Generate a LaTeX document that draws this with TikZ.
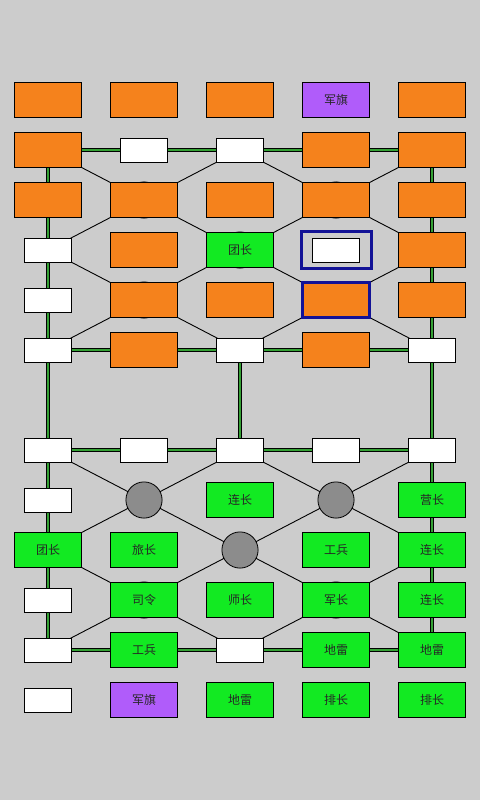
\documentclass[tikz,border=0pt]{standalone}
\usepackage{fontspec}
\setmainfont{Noto Sans CJK SC}
\usetikzlibrary{positioning}

\definecolor{boardgray}{RGB}{204,204,204}
\definecolor{pieceorange}{RGB}{245,130,28}
\definecolor{piecegreen}{RGB}{18,234,34}
\definecolor{piecepurple}{RGB}{176,92,250}
\definecolor{campgray}{RGB}{140,140,140}
\definecolor{railgreen}{RGB}{52,160,52}
\definecolor{selblue}{RGB}{18,18,150}

\begin{document}
\begin{tikzpicture}[x=1pt,y=-1pt,
    road/.style={black, line width=0.9pt},
    railout/.style={black, line width=3.2pt},
    railin/.style={railgreen, line width=1.3pt},
    piece/.style={draw=black, line width=0.8pt, minimum width=67pt, minimum height=35pt, inner sep=0pt,
      font=\fontsize{12}{12}\selectfont, text=black!85},
    orangebox/.style={piece, fill=pieceorange},
    greenbox/.style={piece, fill=piecegreen},
    purplebox/.style={piece, fill=piecepurple},
    postbox/.style={draw=black, line width=0.8pt, fill=white, minimum width=47pt, minimum height=24pt, inner sep=0pt},
    camp/.style={circle, draw=black, line width=0.8pt, fill=campgray, minimum size=36.2pt, inner sep=0pt},
    selframe/.style={draw=selblue, line width=2.2pt, minimum width=70pt, minimum height=37pt, inner sep=0pt}]

    \fill[boardgray] (0,0) rectangle (480,800);
    \useasboundingbox (0,0) rectangle (480,800);

    % grid posts
    \foreach \i in {1,...,5}
      \foreach \j in {1,...,12}{
        \pgfmathsetmacro\yy{50+50*\j+(\j>6)*50}
        \coordinate (p-\i-\j) at ({96*\i-48},\yy);
      }

    % roads
    \foreach \j in {1,...,12}
      \foreach \i [evaluate=\i as \k using int(\i+1)] in {1,...,4}
        \draw[road] (p-\i-\j) -- (p-\k-\j);
    \foreach \i in {1,...,5}
      \foreach \j [evaluate=\j as \k using int(\j+1)] in {1,...,5,7,8,9,10,11}
        \draw[road] (p-\i-\j) -- (p-\i-\k);
    \foreach \a/\b in {1-6/5-2, 5-6/1-2, 3-6/1-4, 3-6/5-4, 1-4/3-2, 5-4/3-2,
                       1-7/5-11, 5-7/1-11, 3-7/1-9, 3-7/5-9, 1-9/3-11, 5-9/3-11}
      \draw[road] (p-\a) -- (p-\b);

    % railways
    \foreach \s in {railout, railin}{
      \draw[\s] (p-1-2) -- (p-5-2);
      \draw[\s] (p-1-6) -- (p-5-6);
      \draw[\s] (p-1-7) -- (p-5-7);
      \draw[\s] (p-1-11) -- (p-5-11);
      \draw[\s] (p-1-2) -- (p-1-11);
      \draw[\s] (p-5-2) -- (p-5-11);
      \draw[\s] (p-3-6) -- (p-3-7);
    }

    % camps
    \foreach \c in {2-3,4-3,3-4,2-5,4-5,2-8,4-8,3-9,2-10,4-10}
      \node[camp] (c-\c) at (p-\c) {};

    % pieces and empty posts
    \foreach \c/\s/\t in {1-1/orangebox/{}, 2-1/orangebox/{}, 3-1/orangebox/{}, 4-1/purplebox/军旗, 5-1/orangebox/{},
                          1-2/orangebox/{}, 2-2/postbox/{}, 3-2/postbox/{}, 4-2/orangebox/{}, 5-2/orangebox/{},
                          1-3/orangebox/{}, 2-3/orangebox/{}, 3-3/orangebox/{}, 4-3/orangebox/{}, 5-3/orangebox/{},
                          1-4/postbox/{}, 2-4/orangebox/{}, 3-4/greenbox/团长, 4-4/postbox/{}, 5-4/orangebox/{},
                          1-5/postbox/{}, 2-5/orangebox/{}, 3-5/orangebox/{}, 5-5/orangebox/{},
                          1-6/postbox/{}, 2-6/orangebox/{}, 3-6/postbox/{}, 4-6/orangebox/{}, 5-6/postbox/{},
                          1-7/postbox/{}, 2-7/postbox/{}, 3-7/postbox/{}, 4-7/postbox/{}, 5-7/postbox/{},
                          1-8/postbox/{}, 3-8/greenbox/连长, 5-8/greenbox/营长,
                          1-9/greenbox/团长, 2-9/greenbox/旅长, 4-9/greenbox/工兵, 5-9/greenbox/连长,
                          1-10/postbox/{}, 2-10/greenbox/司令, 3-10/greenbox/师长, 4-10/greenbox/军长, 5-10/greenbox/连长,
                          1-11/postbox/{}, 2-11/greenbox/工兵, 3-11/postbox/{}, 4-11/greenbox/地雷, 5-11/greenbox/地雷,
                          1-12/postbox/{}, 2-12/purplebox/军旗, 3-12/greenbox/地雷, 4-12/greenbox/排长, 5-12/greenbox/排长}
      \node[\s] (n-\c) at (p-\c) {\t};

    % selection
    \node[orangebox, draw=selblue, line width=2.4pt] (n-4-5) at (p-4-5) {};
    \node[selframe] (sel) at ([xshift=0.5pt]p-4-4) {};
\end{tikzpicture}
\end{document}
